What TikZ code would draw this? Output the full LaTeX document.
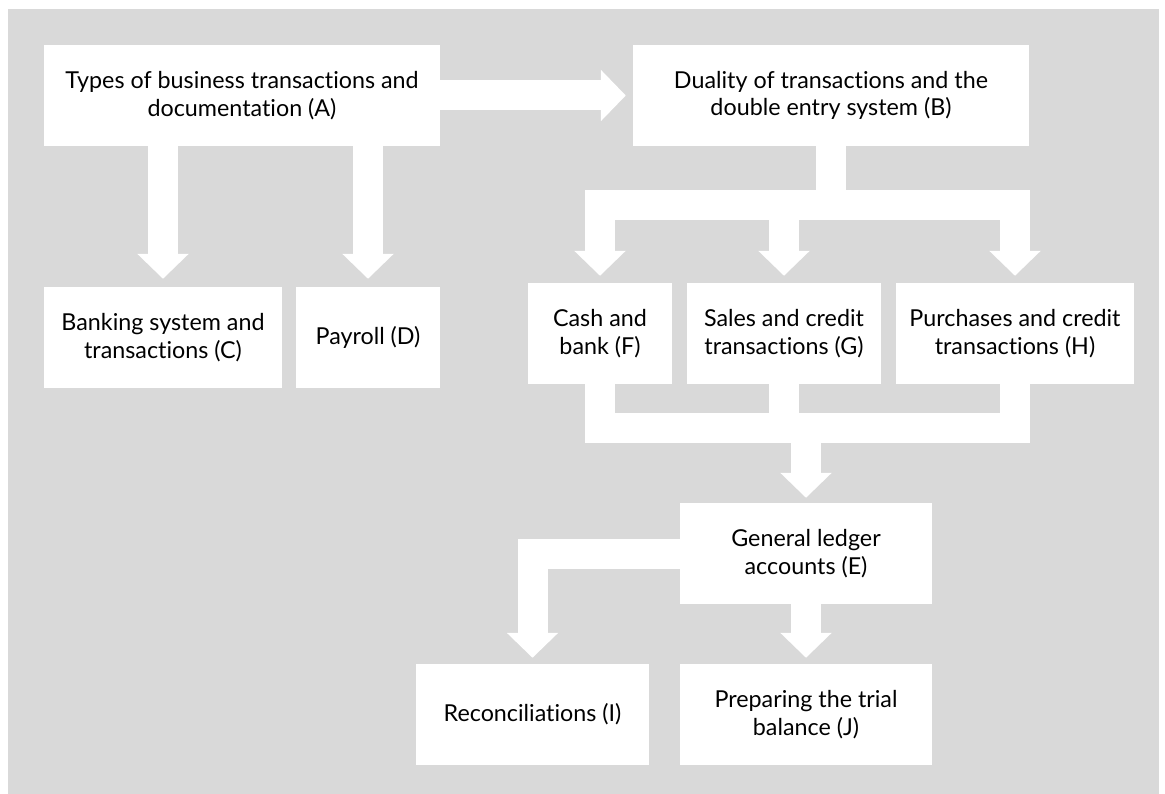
\documentclass[tikz,border=0pt]{standalone}
\usepackage{fontspec}
\setmainfont{Lato}[Ligatures=NoCommon]
\usetikzlibrary{arrows.meta}
\definecolor{panelgray}{RGB}{217,217,217}

\begin{document}
\begin{tikzpicture}[x=1pt, y=-1pt,
	every node/.style={rectangle, fill=white, inner sep=0pt, align=center, font=\fontsize{23.3}{27.5}\selectfont, minimum height=101pt},
	blockarrow/.style={draw=white, line width=30pt, line join=miter, -{Triangle[width=50pt, length=25pt]}},
	blockbar/.style={draw=white, line width=30pt, line join=miter}]
			\useasboundingbox (0,0) rectangle (1165,794);
			\fill[panelgray] (8,9) rectangle (1159,794);
			
			\node[minimum width=396pt] (A) at (242,95.5){Types of business transactions and\\documentation (A)};
			\node[minimum width=396pt] (B) at (831,95.5){Duality of transactions and the\\double entry system (B)};
			
			\node[minimum width=238pt] (C) at (163,337.5){Banking system and\\transactions (C)};
			\node[minimum width=144pt] (D) at (368,337.5){Payroll (D)};
			
			\node[minimum width=144pt] (F) at (600,333.5){Cash and\\bank (F)};
			\node[minimum width=194pt] (G) at (784,333.5){Sales and credit\\transactions (G)};
			\node[minimum width=238pt] (H) at (1015,333.5){Purchases and credit\\transactions (H)};
			
			\node[minimum width=252pt] (E) at (806,553.5){General ledger\\accounts (E)};
			
			\node[minimum width=233pt] (I) at (532.5,714.5){Reconciliations (I)};
			\node[minimum width=252pt] (J) at (806,714.5){Preparing the trial\\balance (J)};
			
			\coordinate (split) at (831,205);
			\coordinate (merge) at (806,428);
			
			\draw[blockarrow, shorten >=7pt] (A.east) -- (B.west);
			\draw[blockarrow, shorten >=8pt] (A.south -| C.north) -- (C.north);
			\draw[blockarrow, shorten >=8pt] (A.south -| D.north) -- (D.north);
			
			\draw[blockbar] (B.south) -- (split);
			\draw[blockarrow, shorten >=7pt] (split) -| (F.north);
			\draw[blockarrow, shorten >=7pt] (split -| G.north) -- (G.north);
			\draw[blockarrow, shorten >=7pt] (split) -| (H.north);
			
			\draw[blockbar] (H.south) |- (merge);
			\draw[blockbar] (G.south) -- (G.south |- merge);
			\draw[blockarrow, shorten >=5pt] (F.south) |- (merge) -- (E.north);
			
			\draw[blockarrow, shorten >=6pt] (E.west) -| (I.north);
			\draw[blockarrow, shorten >=6pt] (E.south) -- (J.north);
\end{tikzpicture}
\end{document}
